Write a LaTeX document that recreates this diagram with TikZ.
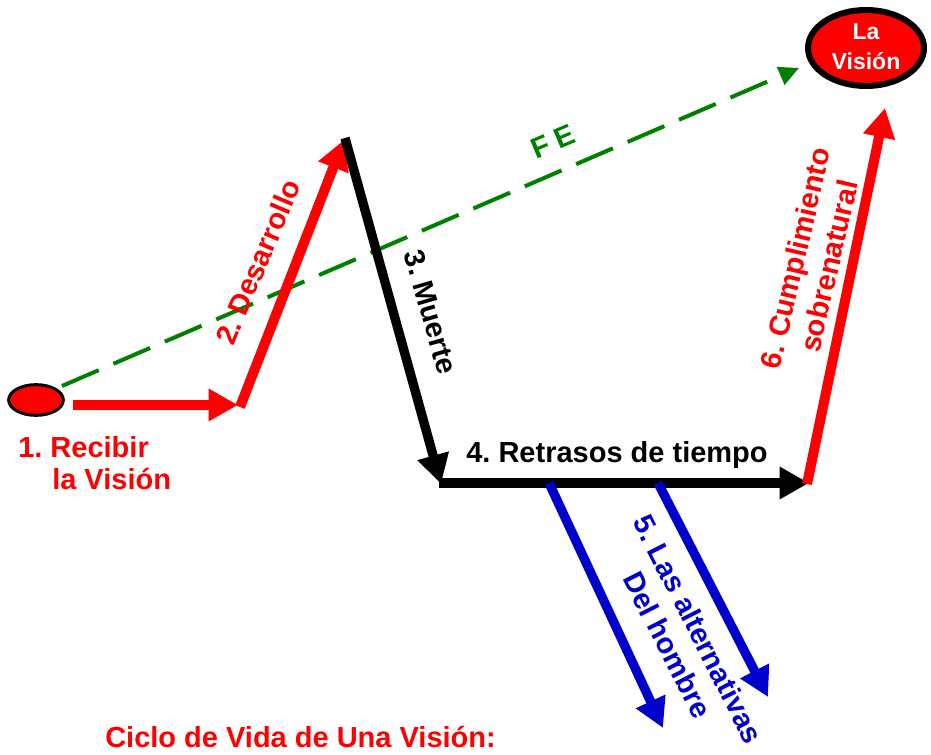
\documentclass[tikz,border=0pt]{standalone}
\usepackage{fontspec}
\setmainfont{Liberation Sans}
\usetikzlibrary{arrows.meta,shapes.geometric}
\definecolor{vred}{RGB}{255,0,0}
\definecolor{vgreen}{RGB}{0,128,0}
\definecolor{vblue}{RGB}{0,0,204}
\frenchspacing
\begin{document}
\begin{tikzpicture}[x=0.75pt,y=-0.75pt,
  lbl/.style={font=\bfseries\fontsize{21.75}{26}\selectfont, inner sep=0pt},
  smalllbl/.style={font=\bfseries\fontsize{17.25}{22.5}\selectfont, inner sep=0pt},
  bighead/.style={-{Triangle[length=22pt,width=23pt]}},
  redarrow/.style={bighead, draw=vred, line width=7.5pt},
  blackarrow/.style={bighead, draw=black, line width=7pt},
  bluearrow/.style={bighead, draw=vblue, line width=7pt},
  fearrow/.style={-{Triangle[length=15pt,width=14pt]}, draw=vgreen, line width=3pt, dash pattern=on 30pt off 12pt}]
\useasboundingbox (0,0) rectangle (931,755);
% vision ellipses
\node[ellipse, draw=black, line width=2.25pt, fill=vred, minimum width=41pt, minimum height=23pt, inner sep=0pt] (start) at (36,400) {};
\node[ellipse, draw=black, line width=4.5pt, fill=vred, minimum width=87pt, minimum height=57pt, inner sep=0pt] (vision) at (866,48) {};
\node[smalllbl, text=white, align=center] (visiontxt) at (866,47) {La\\Visión};
% corner points
\coordinate (a1s) at (73,405);
\coordinate (c1) at (238,405);
\coordinate (c1b) at (240,407);
\coordinate (c2) at (344,140);
\coordinate (c2b) at (345,138);
\coordinate (c3) at (441,484);
\coordinate (c3b) at (439,483);
\coordinate (c4) at (809,483);
\coordinate (c4b) at (807,484);
\coordinate (c5) at (885,108);
\coordinate (b1s) at (549,483);
\coordinate (b1e) at (663,728);
\coordinate (b2s) at (658,483);
\coordinate (b2e) at (768,697);
\coordinate (g1) at (62,386);
\coordinate (g2) at (799,68);
% faith line
\draw[fearrow] (g1) -- (g2);
% arrows
\draw[redarrow] (a1s) -- (c1);
\draw[redarrow] (c1b) -- (c2);
\draw[blackarrow] (c2b) -- (c3);
\draw[blackarrow] (c3b) -- (c4);
\draw[redarrow] (c4b) -- (c5);
\draw[bluearrow] (b1s) -- (b1e);
\draw[bluearrow] (b2s) -- (b2e);
% labels
\node[lbl, text=vred, anchor=base west] (l1a) at (18,457) {1. Recibir};
\node[lbl, text=vred, anchor=base west] (l1b) at (52,489) {la Visión};
\node[lbl, text=vred, rotate=67] (l2) at (258,262) {2. Desarrollo};
\node[lbl, text=black, rotate=-74] (l3) at (431,312) {3. Muerte};
\node[lbl, text=black, anchor=base] (l4) at (617,462) {4. Retrasos de tiempo};
\node[lbl, text=vblue, rotate=-63, align=center] (l5) at (683,637) {5. Las alternativas\\Del hombre};
\node[lbl, text=vred, rotate=77, align=center] (l6) at (812,262) {6. Cumplimiento\\sobrenatural};
\node[lbl, text=vgreen, rotate=23] (fe) at (553,142) {F E};
\node[lbl, text=vred, anchor=base west] (title) at (105,747) {Ciclo de Vida de Una Visión:};
\end{tikzpicture}
\end{document}
